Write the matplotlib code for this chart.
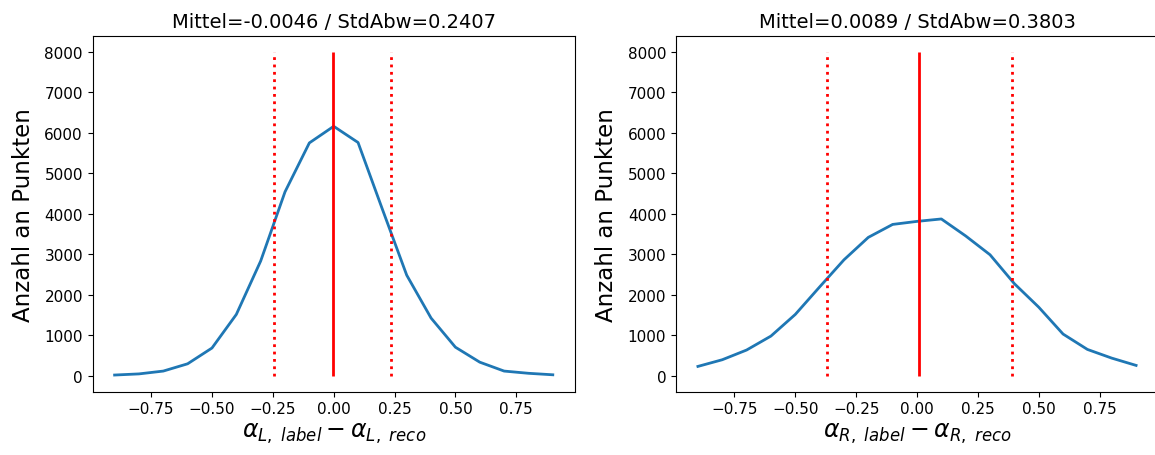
import numpy as np
import matplotlib
matplotlib.use("Agg")
import matplotlib.pyplot as plt

# Bin centres of the residual histograms
bins = [-0.9, -0.8, -0.7, -0.6, -0.5, -0.4, -0.3, -0.2, -0.1, 0.0,
        0.1, 0.2, 0.3, 0.4, 0.5, 0.6, 0.7, 0.8, 0.9]

# Counts per bin, left angle alpha_L
counts_L = [12, 40, 110, 290, 680, 1510, 2830, 4540, 5750, 6160,
            5760, 4110, 2480, 1420, 700, 330, 110, 55, 18]
# Counts per bin, right angle alpha_R
counts_R = [225, 390, 630, 975, 1510, 2190, 2860, 3415, 3735, 3810,
            3870, 3450, 2985, 2270, 1690, 1025, 645, 430, 250]

mean_L, std_L = -0.0046, 0.2407
mean_R, std_R = 0.0089, 0.3803

xlabels = [r'$\alpha_{L,\ label} - \alpha_{L,\ reco}$',
           r'$\alpha_{R,\ label} - \alpha_{R,\ reco}$']

W, H = 1155, 456
fig = plt.figure(figsize=(W / 100, H / 100), dpi=100)

ax_h = (392.7 - 36.7) / H
ax_w = 482 / W
ax_bottom = 1 - 392.7 / H
axL = fig.add_axes([92.7 / W, ax_bottom, ax_w, ax_h])
axR = fig.add_axes([676 / W, ax_bottom, ax_w, ax_h])

for ax, counts, m, s, xl in [(axL, counts_L, mean_L, std_L, xlabels[0]),
                              (axR, counts_R, mean_R, std_R, xlabels[1])]:
    ax.plot(bins, counts, color='#1f77b4', lw=2)
    ax.vlines(m, 0, 8000, colors='red', lw=2)
    ax.vlines([m - s, m + s], 0, 8000, colors='red', linestyles=':', lw=2)
    ax.set_title(f'Mittel={m:.4f} / StdAbw={s:.4f}', fontsize=14)
    ax.set_ylabel('Anzahl an Punkten', fontsize=16.5, labelpad=7)
    ax.set_xlabel(xl, fontsize=17, labelpad=3)
    ax.set_yticks(range(0, 8001, 1000))
    ax.set_xticks([-0.75, -0.5, -0.25, 0, 0.25, 0.5, 0.75])
    ax.tick_params(labelsize=11)

fig.savefig('out.png', dpi=100)
